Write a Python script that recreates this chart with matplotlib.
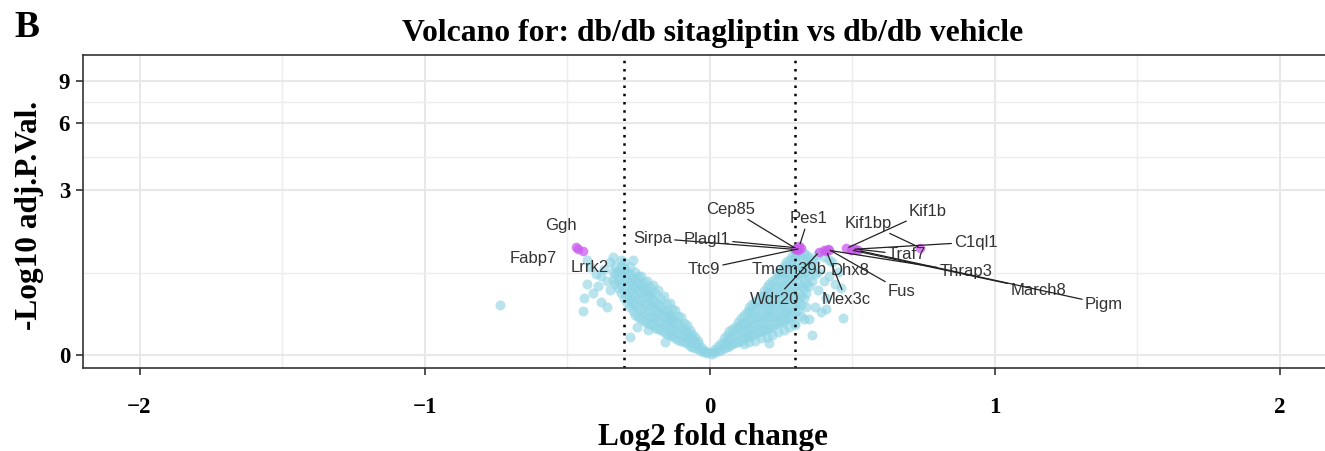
import numpy as np
import matplotlib
matplotlib.use("Agg")
import matplotlib.pyplot as plt
from matplotlib.ticker import FixedLocator

# (log2 fold change, -log10 adj. p) for the non-significant genes, right arm
right_arm = [
    (0.01, 0.010), (0.01, 0.025), (0.02, 0.025), (0.02, 0.051), (0.03, 0.036), (0.03, 0.083),
    (0.04, 0.046), (0.04, 0.105), (0.05, 0.062), (0.05, 0.105), (0.05, 0.150),
    (0.06, 0.073), (0.06, 0.127), (0.06, 0.185), (0.07, 0.083), (0.07, 0.150), (0.07, 0.221),
    (0.08, 0.094), (0.08, 0.162), (0.08, 0.246), (0.09, 0.105), (0.09, 0.185), (0.09, 0.271),
    (0.10, 0.116), (0.10, 0.197), (0.10, 0.271), (0.10, 0.323),
    (0.11, 0.127), (0.11, 0.209), (0.11, 0.297), (0.11, 0.363),
    (0.12, 0.150), (0.12, 0.221), (0.12, 0.310), (0.12, 0.405),
    (0.13, 0.162), (0.13, 0.246), (0.13, 0.336), (0.13, 0.433),
    (0.14, 0.174), (0.14, 0.259), (0.14, 0.350), (0.14, 0.448), (0.14, 0.492),
    (0.15, 0.185), (0.15, 0.271), (0.15, 0.363), (0.15, 0.462), (0.15, 0.537),
    (0.16, 0.197), (0.16, 0.284), (0.16, 0.377), (0.16, 0.477), (0.16, 0.568),
    (0.17, 0.209), (0.17, 0.297), (0.17, 0.391), (0.17, 0.492), (0.17, 0.600),
    (0.18, 0.221), (0.18, 0.310), (0.18, 0.405), (0.18, 0.522), (0.18, 0.649),
    (0.19, 0.234), (0.19, 0.323), (0.19, 0.419), (0.19, 0.537), (0.19, 0.649), (0.19, 0.716),
    (0.20, 0.246), (0.20, 0.350), (0.20, 0.448), (0.20, 0.553), (0.20, 0.682), (0.20, 0.768),
    (0.21, 0.259), (0.21, 0.363), (0.21, 0.462), (0.21, 0.568), (0.21, 0.699), (0.21, 0.822),
    (0.22, 0.271), (0.22, 0.377), (0.22, 0.477), (0.22, 0.584), (0.22, 0.716), (0.22, 0.859),
    (0.23, 0.297), (0.23, 0.391), (0.23, 0.492), (0.23, 0.616), (0.23, 0.751), (0.23, 0.896),
    (0.24, 0.310), (0.24, 0.405), (0.24, 0.522), (0.24, 0.649), (0.24, 0.786), (0.24, 0.935), (0.24, 0.994),
    (0.25, 0.323), (0.25, 0.419), (0.25, 0.537), (0.25, 0.665), (0.25, 0.804), (0.25, 0.954), (0.25, 1.054),
    (0.26, 0.336), (0.26, 0.433), (0.26, 0.553), (0.26, 0.682), (0.26, 0.822), (0.26, 0.974), (0.26, 1.117),
    (0.27, 0.350), (0.27, 0.462), (0.27, 0.584), (0.27, 0.716), (0.27, 0.859), (0.27, 1.014), (0.27, 1.181),
    (0.28, 0.363), (0.28, 0.477), (0.28, 0.600), (0.28, 0.733), (0.28, 0.878), (0.28, 1.034), (0.28, 1.226),
    (0.29, 0.391), (0.29, 0.492), (0.29, 0.616), (0.29, 0.751), (0.29, 0.896), (0.29, 1.054), (0.29, 1.226), (0.29, 1.293),
    (0.30, 0.419), (0.30, 0.522), (0.30, 0.649), (0.30, 0.786), (0.30, 0.935), (0.30, 1.096), (0.30, 1.270), (0.30, 1.363),
    (0.31, 0.462), (0.31, 0.568), (0.31, 0.682), (0.31, 0.822), (0.31, 0.974), (0.31, 1.138), (0.31, 1.316),
    (0.32, 0.522), (0.32, 0.649), (0.32, 0.786), (0.32, 0.935), (0.32, 1.096), (0.32, 1.270),
    (0.33, 0.616), (0.33, 0.751), (0.33, 0.896), (0.33, 1.054), (0.33, 1.226), (0.33, 1.363),
    (0.34, 0.682), (0.34, 0.822), (0.34, 1.014), (0.34, 1.181), (0.34, 1.316),
    (0.35, 0.786), (0.35, 0.935), (0.35, 1.117), (0.35, 1.270),
    (0.36, 0.859), (0.36, 1.054), (0.36, 1.226), (0.37, 0.974), (0.37, 1.181),
    # lower fringe of the right arm
    (0.12, 0.094), (0.14, 0.116), (0.16, 0.127), (0.18, 0.150), (0.20, 0.162), (0.22, 0.185),
    (0.24, 0.209), (0.26, 0.234), (0.28, 0.271), (0.30, 0.310), (0.32, 0.391), (0.34, 0.492),
]

left_arm = [
    (-0.01, 0.015), (-0.01, 0.025), (-0.02, 0.025), (-0.02, 0.046), (-0.03, 0.036), (-0.03, 0.073),
    (-0.04, 0.051), (-0.04, 0.094), (-0.05, 0.062), (-0.05, 0.116),
    (-0.06, 0.073), (-0.06, 0.116), (-0.06, 0.150), (-0.07, 0.083), (-0.07, 0.139), (-0.07, 0.174),
    (-0.08, 0.105), (-0.08, 0.162), (-0.08, 0.209), (-0.09, 0.116), (-0.09, 0.174), (-0.09, 0.234),
    (-0.10, 0.127), (-0.10, 0.197), (-0.10, 0.271), (-0.11, 0.139), (-0.11, 0.209), (-0.11, 0.297),
    (-0.12, 0.150), (-0.12, 0.234), (-0.12, 0.323),
    (-0.13, 0.174), (-0.13, 0.246), (-0.13, 0.336), (-0.13, 0.363),
    (-0.14, 0.185), (-0.14, 0.271), (-0.14, 0.350), (-0.14, 0.405),
    (-0.15, 0.197), (-0.15, 0.284), (-0.15, 0.377), (-0.15, 0.433),
    (-0.16, 0.209), (-0.16, 0.297), (-0.16, 0.391), (-0.16, 0.462),
    (-0.17, 0.234), (-0.17, 0.323), (-0.17, 0.419), (-0.17, 0.507),
    (-0.18, 0.246), (-0.18, 0.336), (-0.18, 0.433), (-0.18, 0.537),
    (-0.19, 0.259), (-0.19, 0.363), (-0.19, 0.462), (-0.19, 0.568),
    (-0.20, 0.284), (-0.20, 0.377), (-0.20, 0.492), (-0.20, 0.600),
    (-0.21, 0.297), (-0.21, 0.391), (-0.21, 0.507), (-0.21, 0.632), (-0.21, 0.665),
    (-0.22, 0.310), (-0.22, 0.419), (-0.22, 0.537), (-0.22, 0.649), (-0.22, 0.716),
    (-0.23, 0.336), (-0.23, 0.433), (-0.23, 0.553), (-0.23, 0.682), (-0.23, 0.751),
    (-0.24, 0.350), (-0.24, 0.462), (-0.24, 0.584), (-0.24, 0.699), (-0.24, 0.804),
    (-0.25, 0.377), (-0.25, 0.492), (-0.25, 0.600), (-0.25, 0.733), (-0.25, 0.840),
    (-0.26, 0.405), (-0.26, 0.522), (-0.26, 0.632), (-0.26, 0.768), (-0.26, 0.878),
    (-0.27, 0.448), (-0.27, 0.553), (-0.27, 0.665), (-0.27, 0.786), (-0.27, 0.916),
    (-0.28, 0.492), (-0.28, 0.600), (-0.28, 0.716), (-0.28, 0.840), (-0.28, 0.974),
    (-0.29, 0.553), (-0.29, 0.649), (-0.29, 0.768), (-0.29, 0.896), (-0.29, 1.014),
    (-0.30, 0.616), (-0.30, 0.733), (-0.30, 0.859), (-0.30, 0.994), (-0.30, 1.075),
    (-0.31, 0.682), (-0.31, 0.822), (-0.31, 0.954), (-0.31, 1.096),
    (-0.32, 0.751), (-0.32, 0.896), (-0.32, 1.034),
    (-0.33, 0.822), (-0.33, 0.974), (-0.33, 1.117), (-0.34, 0.878), (-0.34, 1.014),
    # upper fringe of the left arm
    (-0.04, 0.127), (-0.05, 0.162), (-0.06, 0.197), (-0.07, 0.234), (-0.08, 0.284),
    (-0.09, 0.310), (-0.10, 0.377), (-0.11, 0.391), (-0.12, 0.462), (-0.13, 0.477),
    (-0.14, 0.553), (-0.15, 0.537), (-0.16, 0.649), (-0.17, 0.600), (-0.18, 0.733),
    (-0.19, 0.682), (-0.20, 0.804), (-0.21, 0.768), (-0.22, 0.859), (-0.23, 0.840),
    (-0.24, 0.935), (-0.25, 0.935), (-0.26, 1.014), (-0.28, 1.096), (-0.30, 1.181),
]

# scattered genes around the two arms
stray = [
    (0.38, 0.733), (0.40, 0.859), (0.42, 0.935), (0.41, 0.616), (0.44, 0.822), (0.37, 0.492),
    (0.35, 0.350), (0.39, 0.433), (0.47, 0.363), (0.45, 1.014), (0.43, 1.181), (0.40, 1.270),
    (0.38, 1.340), (0.36, 0.185), (0.41, 0.477), (0.46, 0.751), (0.38, 1.014), (0.42, 1.226),
    (0.21, 0.105), (0.30, 0.284), (0.33, 0.350),
    (-0.35, 0.733), (-0.36, 0.859), (-0.37, 1.054), (-0.38, 0.935), (-0.39, 0.786), (-0.40, 0.974),
    (-0.42, 1.096), (-0.41, 0.682), (-0.44, 0.616), (-0.445, 0.448), (-0.36, 0.492), (-0.38, 0.568),
    (-0.35, 1.181), (-0.34, 1.270), (-0.31, 1.226), (-0.27, 1.230), (-0.255, 0.265), (-0.28, 0.162),
    (-0.216, 0.234), (-0.156, 0.116), (-0.43, 0.822), (-0.43, 1.226), (-0.735, 0.522),
]

# significant genes
sig_genes = ["Ggh", "Fabp7", "Lrrk2",
             "Cep85", "Pes1", "Sirpa", "Plagl1", "Ttc9", "Tmem39b",
             "Wdr20", "Dhx8", "Mex3c", "Fus", "Thrap3",
             "Kif1b", "C1ql1", "Traf7", "March8", "Pigm", "Kif1bp"]
sig_fc = [-0.47, -0.46, -0.445,
          0.305, 0.315, 0.30, 0.31, 0.32, 0.31,
          0.385, 0.40, 0.41, 0.415, 0.42,
          0.48, 0.50, 0.51, 0.495, 0.52, 0.74]
sig_p = [1.47, 1.44, 1.40,
         1.44, 1.49, 1.43, 1.46, 1.45, 1.42,
         1.38, 1.42, 1.40, 1.44, 1.41,
         1.45, 1.43, 1.44, 1.42, 1.41, 1.46]

# where each gene name sits (data units)
label_xy = {
    "Ggh": (-0.52, 1.96), "Fabp7": (-0.62, 1.26), "Lrrk2": (-0.42, 1.08),
    "Sirpa": (-0.20, 1.67), "Plagl1": (-0.01, 1.65), "Cep85": (0.075, 2.41),
    "Pes1": (0.346, 2.14), "Ttc9": (-0.02, 1.06), "Tmem39b": (0.28, 1.06),
    "Wdr20": (0.23, 0.60), "Kif1bp": (0.556, 2.03), "Kif1b": (0.767, 2.35),
    "C1ql1": (0.935, 1.585), "Traf7": (0.693, 1.32), "Dhx8": (0.493, 1.04),
    "Thrap3": (0.90, 1.01), "Fus": (0.675, 0.71), "Mex3c": (0.479, 0.59),
    "March8": (1.153, 0.727), "Pigm": (1.384, 0.535),
}
no_segment = {"Ggh", "Fabp7", "Lrrk2", "Tmem39b", "Dhx8"}

x_ticks = [-2, -1, 0, 1, 2]
y_ticks = [0, 3, 6, 9]
fc_cut = 0.3

serif = "Liberation Serif"

fig = plt.figure(figsize=(13.25, 4.51), dpi=100)
ax = fig.add_axes([82.5 / 1325, 83 / 451, 1254 / 1325, 313 / 451])
ax.set_yscale("function", functions=(np.log1p, np.expm1))

cloud = np.array(right_arm + left_arm + stray)
ax.scatter(cloud[:, 0], cloud[:, 1], s=52, color="#8ED4E4", alpha=0.62,
           linewidths=0, zorder=2)
ax.scatter(sig_fc, sig_p, s=48, color="#CC5CEE", alpha=0.75, linewidths=0, zorder=3)

for v in (-fc_cut, fc_cut):
    ax.axvline(v, color="black", lw=1.8, linestyle=(0, (1, 2.3)), zorder=2.5)

for name, fc, p in zip(sig_genes, sig_fc, sig_p):
    lx, ly = label_xy[name]
    if name in no_segment:
        ax.text(lx, ly, name, ha="center", va="center", fontsize=12,
                family="Liberation Sans", color="#333333", zorder=5)
    else:
        ax.annotate(name, xy=(fc, p), xytext=(lx, ly), ha="center", va="center",
                    fontsize=12, family="Liberation Sans", color="#333333", zorder=5,
                    arrowprops=dict(arrowstyle="-", color="#222222", lw=0.9,
                                    shrinkA=0, shrinkB=2))

ax.set_xlim(-2.2, 2.2)
ax.set_ylim(-0.103, 11.44)
ax.set_xticks(x_ticks)
ax.set_xticklabels(["\u22122", "\u22121", "0", "1", "2"])
ax.set_yticks(y_ticks)
ax.xaxis.set_minor_locator(FixedLocator([-1.5, -0.5, 0.5, 1.5]))
mids = [np.sqrt((1 + a) * (1 + b)) - 1 for a, b in zip(y_ticks[:-1], y_ticks[1:])]
ax.yaxis.set_minor_locator(FixedLocator(mids))

ax.set_axisbelow(True)
ax.grid(which="major", color="#E8E8E8", lw=1.5)
ax.grid(which="minor", color="#EDEDED", lw=1.0)
for sp in ax.spines.values():
    sp.set_color("#333333")
    sp.set_linewidth(1.2)
ax.tick_params(which="major", direction="out", length=5, width=1.2, color="#333333",
               labelsize=16.5)
ax.tick_params(which="minor", length=0)
ax.tick_params(axis="x", pad=16)
ax.tick_params(axis="y", pad=4)
for lab in ax.get_xticklabels() + ax.get_yticklabels():
    lab.set_family(serif)
    lab.set_fontweight("bold")

fig.text(713 / 1325, (451 - 41) / 451, "Volcano for: db/db sitagliptin vs db/db vehicle",
         ha="center", va="baseline", fontsize=22.8, fontweight="bold", family=serif)
fig.text(14 / 1325, (451 - 37) / 451, "B", ha="left", va="baseline", fontsize=27,
         fontweight="bold", family=serif)
fig.text(30 / 1325, (451 - 215) / 451, "-Log10 adj.P.Val.", rotation=90, ha="center",
         va="center", fontsize=22.5, fontweight="bold", family=serif)
fig.text(713 / 1325, (451 - 445) / 451, "Log2 fold change", ha="center", va="baseline",
         fontsize=22.5, fontweight="bold", family=serif)

fig.savefig("out.png", dpi=100)
